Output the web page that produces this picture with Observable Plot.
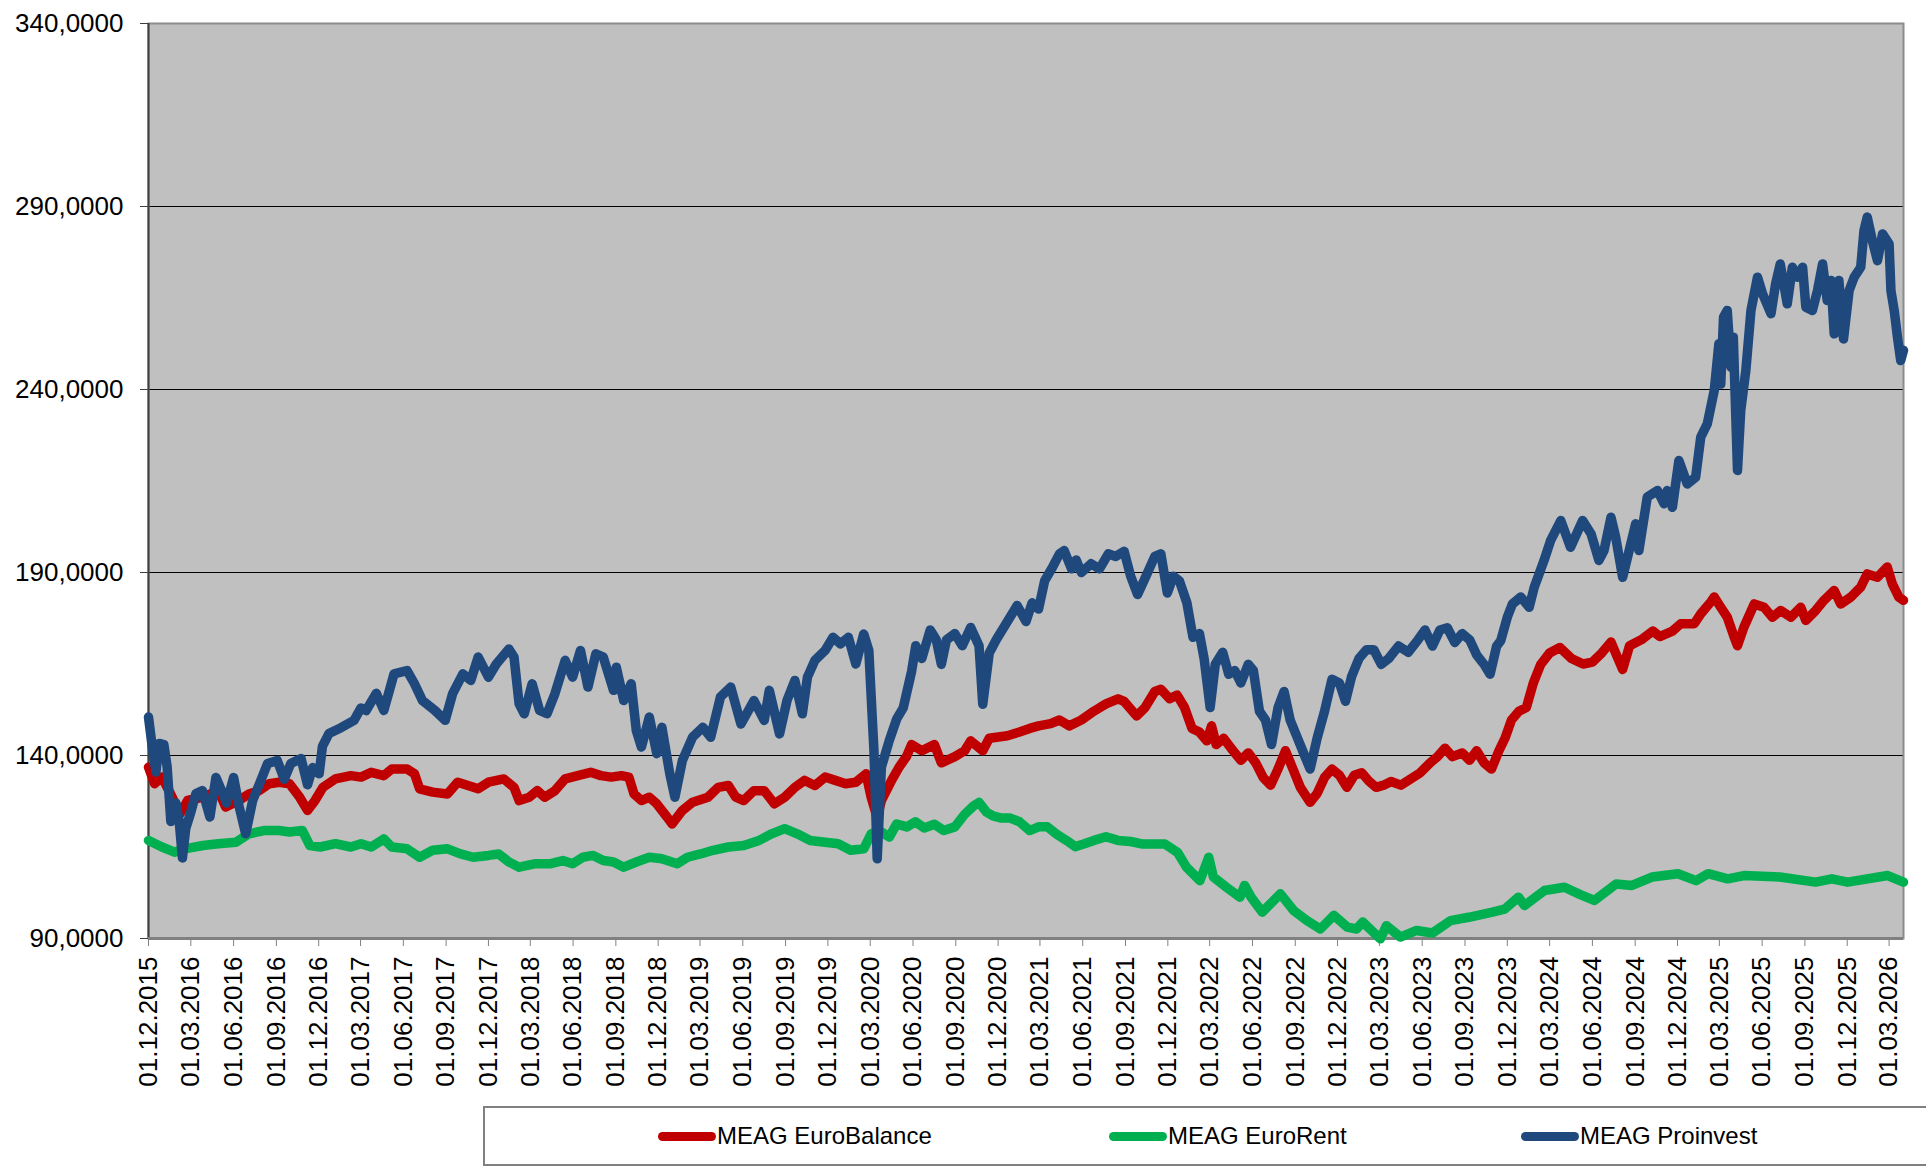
<!DOCTYPE html>
<html><head><meta charset="utf-8">
<script src="https://cdn.jsdelivr.net/npm/d3@7"></script>
<script src="https://cdn.jsdelivr.net/npm/@observablehq/plot@0.6"></script>
<style>
html,body{margin:0;padding:0;background:#fff;}
body{width:1926px;height:1172px;overflow:hidden;position:relative;font-family:"Liberation Sans",Arial,sans-serif;}
#chart{position:absolute;left:0;top:0;}
#legend{position:absolute;left:483px;top:1106px;width:1500px;height:56px;border:2px solid #808080;background:#fff;}
.item{position:absolute;top:0;height:56px;display:flex;align-items:center;font-size:24px;color:#000;white-space:nowrap;}
.sw{width:58px;height:9px;border-radius:4.5px;margin-right:1px;}
</style></head><body>
<div id="chart"></div>
<div id="legend"></div>
<script>
const seriesNames = ["MEAG EuroBalance", "MEAG EuroRent", "MEAG Proinvest"];
const seriesColors = ["#C00000", "#00B050", "#1F497D"];
const yTicks = [90, 140, 190, 240, 290, 340];
const gridValues = [140, 190, 240, 290];
const xTickDates = ["2015-12-01","2016-03-01","2016-06-01","2016-09-01","2016-12-01","2017-03-01","2017-06-01","2017-09-01","2017-12-01","2018-03-01","2018-06-01","2018-09-01","2018-12-01","2019-03-01","2019-06-01","2019-09-01","2019-12-01","2020-03-01","2020-06-01","2020-09-01","2020-12-01","2021-03-01","2021-06-01","2021-09-01","2021-12-01","2022-03-01","2022-06-01","2022-09-01","2022-12-01","2023-03-01","2023-06-01","2023-09-01","2023-12-01","2024-03-01","2024-06-01","2024-09-01","2024-12-01","2025-03-01","2025-06-01","2025-09-01","2025-12-01","2026-03-01"];
const xDomain = ["2015-12-01", "2026-04-01"];

const balanceDates = ["2015-12-01","2015-12-14","2015-12-30","2016-01-21","2016-02-07","2016-02-23","2016-03-27","2016-04-29","2016-05-15","2016-06-12","2016-07-04","2016-07-26","2016-08-17","2016-09-07","2016-09-29","2016-10-21","2016-11-07","2016-11-23","2016-12-10","2017-01-06","2017-02-08","2017-03-02","2017-03-24","2017-04-20","2017-05-07","2017-06-09","2017-06-25","2017-07-06","2017-08-03","2017-09-04","2017-09-26","2017-10-18","2017-11-09","2017-12-01","2018-01-03","2018-01-25","2018-02-05","2018-02-27","2018-03-16","2018-04-01","2018-04-23","2018-05-15","2018-06-11","2018-07-09","2018-07-31","2018-08-22","2018-09-13","2018-09-29","2018-10-10","2018-10-26","2018-11-12","2018-11-28","2018-12-20","2018-12-31","2019-01-22","2019-02-13","2019-03-18","2019-04-09","2019-05-01","2019-05-17","2019-06-03","2019-06-25","2019-07-17","2019-08-08","2019-08-30","2019-09-21","2019-10-12","2019-11-03","2019-11-25","2019-12-17","2020-01-08","2020-01-30","2020-02-21","2020-03-03","2020-03-16","2020-03-25","2020-04-16","2020-05-02","2020-05-18","2020-05-29","2020-06-20","2020-07-17","2020-08-01","2020-08-30","2020-09-20","2020-10-03","2020-10-29","2020-11-12","2020-12-21","2021-01-16","2021-02-07","2021-02-26","2021-03-24","2021-04-12","2021-05-03","2021-05-29","2021-06-25","2021-07-21","2021-08-16","2021-08-29","2021-09-25","2021-10-13","2021-11-03","2021-11-16","2021-12-05","2021-12-21","2022-01-06","2022-01-22","2022-02-07","2022-02-23","2022-03-05","2022-03-15","2022-03-31","2022-04-16","2022-05-07","2022-05-23","2022-06-08","2022-06-24","2022-07-10","2022-07-26","2022-08-11","2022-08-27","2022-09-12","2022-10-03","2022-10-18","2022-11-03","2022-11-19","2022-12-05","2022-12-21","2023-01-06","2023-01-22","2023-02-07","2023-02-22","2023-03-10","2023-03-26","2023-04-16","2023-05-07","2023-05-28","2023-06-18","2023-07-04","2023-07-20","2023-08-05","2023-08-26","2023-09-11","2023-09-26","2023-10-12","2023-10-28","2023-11-13","2023-11-26","2023-12-10","2023-12-26","2024-01-11","2024-01-26","2024-02-11","2024-03-01","2024-03-23","2024-04-17","2024-05-12","2024-06-01","2024-06-21","2024-07-11","2024-08-05","2024-08-20","2024-09-14","2024-10-09","2024-10-24","2024-11-20","2024-12-08","2025-01-06","2025-01-20","2025-02-11","2025-02-18","2025-03-04","2025-03-18","2025-04-02","2025-04-09","2025-04-23","2025-05-15","2025-06-05","2025-06-23","2025-07-11","2025-08-02","2025-08-23","2025-09-03","2025-09-24","2025-10-12","2025-11-03","2025-11-17","2025-12-09","2025-12-30","2026-01-13","2026-02-04","2026-02-25","2026-03-08","2026-03-22","2026-04-01"];
const balanceValues = [136.8,132.3,134.1,128.6,124.1,127.7,128.6,130.4,125.9,127.7,129.5,130.4,132.3,132.7,132.3,128.6,125,127.7,131.3,133.6,134.5,134.1,135.4,134.5,136.3,136.3,135,130.9,130,129.5,132.7,131.8,130.9,132.7,133.6,131.3,127.7,128.6,130.4,128.6,130.4,133.6,134.5,135.4,134.5,134.1,134.5,134.1,129.5,127.7,128.6,126.8,123.2,121.3,125,127.2,128.6,131.3,131.8,128.6,127.7,130.4,130.4,126.8,128.6,131.3,133.2,131.8,134.1,133.2,132.3,132.7,135,128.6,123,127.7,133.2,136.8,139.7,143,141.3,143,138,139.7,141.3,144,141.3,144.7,145.4,146.4,147.4,148.1,148.7,149.7,148.1,149.7,152.1,154.1,155.5,154.8,150.8,153.1,157.5,158.1,155.5,156.5,153.1,147.4,146.4,144,148.1,143,144.7,142,138.7,140.7,138,134,131.9,136.3,141.3,136.3,131.3,127.2,129.6,134,136.3,134.6,131.3,134.6,135.3,132.9,131.3,131.9,132.9,131.9,133.6,135.3,138,139.7,142,139.7,140.7,138.7,141.3,138,136.3,141.3,144.7,149.7,152.1,153.1,159.8,164.9,168,169.5,166.5,165,165.5,168,171,163.5,170,171.6,174,172.5,174,176,176,178.7,182,183.3,180.5,177.8,172.3,170,175.1,181.4,180.5,177.8,179.6,177.8,180.5,176.9,179.6,182.4,185.1,181.4,183.3,186,189.6,188.7,191.5,186.9,183.3,182.4];

const rentDates = ["2015-12-01","2015-12-30","2016-01-26","2016-02-17","2016-03-27","2016-04-29","2016-06-06","2016-07-04","2016-08-05","2016-09-07","2016-09-29","2016-10-27","2016-11-12","2016-12-04","2017-01-06","2017-02-08","2017-03-02","2017-03-24","2017-04-20","2017-05-07","2017-06-09","2017-07-06","2017-08-03","2017-09-04","2017-10-02","2017-10-29","2017-12-01","2017-12-23","2018-01-14","2018-02-05","2018-03-10","2018-04-12","2018-05-10","2018-05-31","2018-06-22","2018-07-14","2018-08-05","2018-08-27","2018-09-18","2018-10-15","2018-11-12","2018-12-09","2019-01-11","2019-02-02","2019-03-02","2019-03-29","2019-05-01","2019-06-03","2019-07-06","2019-08-02","2019-08-30","2019-09-26","2019-10-24","2019-11-25","2019-12-23","2020-01-19","2020-02-16","2020-03-03","2020-03-20","2020-04-11","2020-04-27","2020-05-19","2020-06-06","2020-06-25","2020-07-17","2020-08-06","2020-08-30","2020-09-20","2020-10-09","2020-10-21","2020-11-06","2020-11-20","2020-12-08","2020-12-27","2021-01-16","2021-02-07","2021-02-26","2021-03-17","2021-04-06","2021-04-27","2021-05-16","2021-06-03","2021-06-25","2021-07-21","2021-08-16","2021-09-12","2021-10-08","2021-11-03","2021-11-25","2021-12-22","2022-01-10","2022-02-08","2022-02-27","2022-03-09","2022-04-06","2022-05-05","2022-05-15","2022-05-29","2022-06-22","2022-07-31","2022-08-29","2022-09-26","2022-10-25","2022-11-23","2022-12-22","2023-01-11","2023-01-24","2023-03-03","2023-03-16","2023-04-15","2023-05-20","2023-06-23","2023-08-01","2023-09-09","2023-10-30","2023-11-25","2023-12-25","2024-01-07","2024-02-19","2024-04-02","2024-05-06","2024-06-05","2024-07-22","2024-08-25","2024-10-07","2024-12-02","2025-01-10","2025-02-05","2025-03-19","2025-04-23","2025-07-09","2025-09-24","2025-10-29","2025-12-02","2026-02-26","2026-04-01"];
const rentValues = [116.8,115,113.6,114.5,115.4,115.9,116.3,118.6,119.5,119.5,119.1,119.5,115.4,115,115.9,115,115.9,115,117.2,115,114.5,112.2,114.1,114.5,113.1,112.2,112.7,113.1,110.9,109.5,110.4,110.4,111.3,110.4,112.2,112.7,111.3,110.9,109.5,110.9,112.2,111.8,110.4,112.2,113.1,114.1,115,115.4,116.8,118.6,120,118.6,116.8,116.3,115.9,114.1,114.5,118.6,119.5,117.7,121.3,120.5,121.9,120.2,121.2,119.5,120.5,123.9,126.2,127.2,124.5,123.5,122.9,122.9,121.9,119.5,120.5,120.5,118.5,116.8,115.1,115.8,116.8,117.8,116.8,116.5,115.8,115.8,115.8,113.5,109.5,105.8,112.2,106.8,104,101.3,104.5,101.3,97.2,102.2,97.6,94.9,92.6,96.3,93.1,92.6,94.5,89.9,93.5,90.4,92.2,91.5,94.9,95.8,97.2,98,101.3,99,103.1,104,102,100.4,104.9,104.5,106.8,107.7,105.8,107.7,106.3,107.2,106.8,105.4,106.3,105.4,107.2,105.4];

const proinvestDates = ["2015-12-01","2015-12-10","2015-12-17","2015-12-24","2016-01-03","2016-01-10","2016-01-18","2016-01-29","2016-02-05","2016-02-12","2016-02-19","2016-03-01","2016-03-12","2016-03-26","2016-04-11","2016-04-24","2016-05-04","2016-05-17","2016-06-01","2016-06-13","2016-06-27","2016-07-12","2016-07-29","2016-08-13","2016-09-03","2016-09-18","2016-10-02","2016-10-24","2016-11-07","2016-11-18","2016-12-02","2016-12-09","2016-12-23","2017-01-18","2017-02-15","2017-03-02","2017-03-13","2017-04-04","2017-04-20","2017-05-12","2017-06-09","2017-06-25","2017-07-12","2017-08-08","2017-08-30","2017-09-15","2017-10-07","2017-10-24","2017-11-09","2017-12-01","2017-12-18","2018-01-14","2018-01-25","2018-02-05","2018-02-16","2018-03-05","2018-03-21","2018-04-06","2018-04-23","2018-05-15","2018-05-31","2018-06-17","2018-07-03","2018-07-20","2018-08-05","2018-08-27","2018-09-02","2018-09-18","2018-10-04","2018-10-15","2018-10-26","2018-11-12","2018-11-28","2018-12-09","2018-12-26","2019-01-06","2019-01-22","2019-02-13","2019-03-07","2019-03-24","2019-04-14","2019-05-06","2019-05-28","2019-06-25","2019-07-17","2019-07-28","2019-08-19","2019-09-04","2019-09-21","2019-10-07","2019-10-18","2019-11-03","2019-11-25","2019-12-12","2019-12-28","2020-01-14","2020-01-30","2020-02-16","2020-02-27","2020-03-09","2020-03-16","2020-03-25","2020-04-11","2020-04-27","2020-05-11","2020-05-29","2020-06-07","2020-06-20","2020-07-08","2020-07-21","2020-08-01","2020-08-12","2020-08-30","2020-09-15","2020-10-03","2020-10-21","2020-10-29","2020-11-12","2020-11-27","2020-12-21","2021-01-11","2021-01-30","2021-02-12","2021-02-26","2021-03-11","2021-03-29","2021-04-12","2021-04-22","2021-05-08","2021-05-18","2021-05-29","2021-06-19","2021-07-07","2021-07-26","2021-08-11","2021-08-29","2021-09-12","2021-09-27","2021-10-13","2021-11-03","2021-11-16","2021-11-30","2021-12-13","2021-12-26","2022-01-11","2022-01-24","2022-02-07","2022-02-17","2022-03-02","2022-03-13","2022-03-29","2022-04-11","2022-04-24","2022-05-07","2022-05-23","2022-06-03","2022-06-16","2022-06-29","2022-07-12","2022-07-26","2022-08-08","2022-08-21","2022-09-06","2022-09-22","2022-10-03","2022-10-18","2022-11-03","2022-11-19","2022-12-05","2022-12-18","2022-12-31","2023-01-16","2023-02-01","2023-02-17","2023-03-05","2023-03-21","2023-04-11","2023-05-02","2023-05-23","2023-06-07","2023-06-23","2023-07-09","2023-07-25","2023-08-10","2023-08-26","2023-09-11","2023-09-26","2023-10-12","2023-10-25","2023-11-08","2023-11-17","2023-12-01","2023-12-12","2023-12-30","2024-01-17","2024-01-28","2024-02-18","2024-03-03","2024-03-25","2024-04-15","2024-05-11","2024-05-29","2024-06-15","2024-06-26","2024-07-11","2024-07-21","2024-08-05","2024-08-19","2024-09-02","2024-09-09","2024-09-27","2024-10-19","2024-11-02","2024-11-09","2024-11-20","2024-12-04","2024-12-22","2025-01-09","2025-01-20","2025-02-03","2025-02-18","2025-02-28","2025-03-04","2025-03-10","2025-03-18","2025-03-26","2025-03-31","2025-04-09","2025-04-16","2025-04-27","2025-05-08","2025-05-22","2025-06-02","2025-06-20","2025-06-30","2025-07-10","2025-07-25","2025-08-05","2025-08-16","2025-08-27","2025-09-03","2025-09-17","2025-09-28","2025-10-09","2025-10-19","2025-10-27","2025-11-03","2025-11-13","2025-11-23","2025-12-05","2025-12-16","2025-12-30","2026-01-06","2026-01-13","2026-01-24","2026-02-04","2026-02-15","2026-03-01","2026-03-05","2026-03-12","2026-03-19","2026-03-26","2026-04-01"];
const proinvestValues = [150.5,141.4,135.5,143.3,143,137,122,127,122,112,120,124.5,129.6,130.4,123.2,134,131,127,134,126,118.6,127.7,133,137.8,138.6,133.5,137.8,139.2,132,136.7,135,142.5,146,147.6,149.6,153,152.3,157,152.3,162.3,163.2,159.6,155,152.3,149.6,156.9,162.3,160.5,166.9,161.4,165,169.1,166.9,154.1,151.4,159.6,152.3,151.4,156.9,166,161.4,168.7,158.7,167.8,166.9,157.8,164.1,155,159.6,146.8,142.3,150.5,140.5,147.7,135,128.6,138.6,145,147.7,145,156,158.7,148.6,155,149.6,157.8,145.9,155,160.5,151.4,161.4,166,168.7,172.3,170.5,172.3,165,173.2,168.7,141.4,111.8,136.8,144.1,150,153,163,170,166.5,174.3,171.6,164.9,171.6,173.3,170,175,170,154,168,171.6,176.6,181,176.6,181.7,180,187.7,191.7,195.1,196,191,193.4,190,192.4,191,195.1,194.4,195.8,189,184,188.4,194.4,195.1,184.4,189,187.7,181.7,172.3,173.3,166.5,153.1,164.9,168.2,162.2,163.2,159.8,164.9,163.2,152.1,149.7,143,153.1,157.5,149.7,144.7,139.7,136.3,144.7,152.1,160.8,159.8,154.8,161.5,166.5,168.9,168.9,164.9,166.5,169.9,168.2,171.6,174.3,169.9,174.3,174.9,170.9,173.3,171.6,167.5,164.9,162.2,169.9,171.4,177.8,181.4,183.3,180.5,186,193.3,198.7,204.2,196.9,204.2,200.6,193.3,196,205.1,199.7,188.7,196,203.3,196,210.6,212.4,208.8,212.4,207.8,220.6,214.2,216,227,230.6,239.7,252.5,241.5,259.8,261.6,246.1,254.3,217.9,234.3,245.2,261.6,270.7,266.1,260.7,268.9,274.3,263.4,273.4,270.7,273.4,262.5,261.6,267,274.3,264.3,269.8,255.2,269.8,253.8,267,270.7,273.4,283.4,287.1,280.7,275.2,282.5,279.8,267,261.6,254.3,247.9,250.7];

const seriesDates = [balanceDates, rentDates, proinvestDates];
const seriesValues = [balanceValues, rentValues, proinvestValues];
const parse = d3.utcParse("%Y-%m-%d");
const rows = [];
seriesNames.forEach((name, i) => {
  seriesDates[i].forEach((d, j) => rows.push({series: name, date: parse(d), value: seriesValues[i][j]}));
});

const fmtDate = d3.utcFormat("%d.%m.%Y");
const fmtY = v => v.toFixed(4).replace(".", ",");

const chart = Plot.plot({
  width: 1926,
  height: 1100,
  marginLeft: 148,
  marginRight: 23,
  marginTop: 23,
  marginBottom: 162,
  style: {fontFamily: "'Liberation Sans', Arial, sans-serif", background: "transparent", color: "#000", overflow: "visible"},
  x: {type: "utc", domain: xDomain.map(parse)},
  y: {domain: [90, 340]},
  color: {domain: seriesNames, range: seriesColors},
  marks: [
    Plot.frame({fill: "#C0C0C0", stroke: null}),
    Plot.ruleY(gridValues, {stroke: "#000", strokeWidth: 1.2}),
    Plot.frame({stroke: "#8C8C8C", strokeWidth: 2, fill: null}),
    Plot.ruleX([parse(xDomain[0])], {stroke: "#404040", strokeWidth: 2}),
    Plot.ruleY([90], {stroke: "#808080", strokeWidth: 3}),
    Plot.axisY({ticks: yTicks, tickFormat: fmtY, tickSize: 8, tickPadding: 17, fontSize: 26, stroke: "#404040", fill: "#000", label: null}),
    Plot.axisX({ticks: xTickDates.map(parse), tickFormat: fmtDate, tickRotate: -90, tickSize: 8, tickPadding: 10, fontSize: 26, stroke: "#808080", fill: "#000", label: null}),
    Plot.line(rows, {x: "date", y: "value", z: "series", stroke: "series", strokeWidth: 9.5, strokeLinejoin: "round", strokeLinecap: "round"})
  ]
});
document.getElementById("chart").appendChild(chart);

const legend = document.getElementById("legend");
const legendX = [173, 624, 1036];
seriesNames.forEach((name, i) => {
  const item = document.createElement("div");
  item.className = "item";
  item.style.left = legendX[i] + "px";
  const sw = document.createElement("div");
  sw.className = "sw";
  sw.style.background = seriesColors[i];
  const t = document.createElement("span");
  t.textContent = name;
  item.appendChild(sw);
  item.appendChild(t);
  legend.appendChild(item);
});
</script>
</body></html>
